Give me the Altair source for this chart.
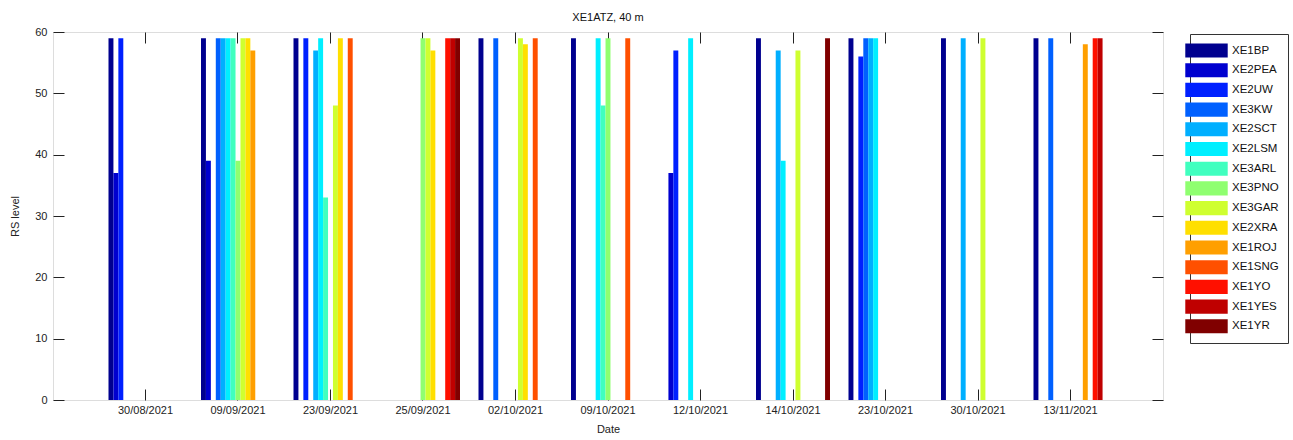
import altair as alt
import pandas as pd

stations = ["XE1BP", "XE2PEA", "XE2UW", "XE3KW", "XE2SCT", "XE2LSM", "XE3ARL", "XE3PNO",
            "XE3GAR", "XE2XRA", "XE1ROJ", "XE1SNG", "XE1YO", "XE1YES", "XE1YR"]
colors = ["#00008F", "#0000CF", "#0020FF", "#0060FF", "#00AFFF", "#00EFFF", "#40FFBF", "#8FFF70",
          "#CFFF30", "#FFDF00", "#FF9F00", "#FF5000", "#FF1000", "#BF0000", "#800000"]
dates = ["30/08/2021", "09/09/2021", "23/09/2021", "25/09/2021", "02/10/2021", "09/10/2021",
         "12/10/2021", "14/10/2021", "23/10/2021", "30/10/2021", "13/11/2021"]

# RS level per date, one value per station (same order as stations)
v_3008 = [59, 37, 59, 0, 0, 0, 0, 0, 0, 0, 0, 0, 0, 0, 0]
v_0909 = [59, 39, 0, 59, 59, 59, 59, 39, 59, 59, 57, 0, 0, 0, 0]
v_2309 = [59, 0, 59, 0, 57, 59, 33, 0, 48, 59, 0, 59, 0, 0, 0]
v_2509 = [0, 0, 0, 0, 0, 0, 0, 59, 59, 57, 0, 0, 59, 59, 59]
v_0210 = [59, 0, 0, 59, 0, 0, 0, 0, 59, 58, 0, 59, 0, 0, 0]
v_0910 = [59, 0, 0, 0, 0, 59, 48, 59, 0, 0, 0, 59, 0, 0, 0]
v_1210 = [0, 37, 57, 0, 0, 59, 0, 0, 0, 0, 0, 0, 0, 0, 0]
v_1410 = [59, 0, 0, 0, 57, 39, 0, 0, 57, 0, 0, 0, 0, 0, 59]
v_2310 = [59, 0, 56, 59, 59, 59, 0, 0, 0, 0, 0, 0, 0, 0, 0]
v_3010 = [59, 0, 0, 0, 59, 0, 0, 0, 59, 0, 0, 0, 0, 0, 0]
v_1311 = [59, 0, 0, 59, 0, 0, 0, 0, 0, 0, 58, 0, 59, 59, 0]
values = [v_3008, v_0909, v_2309, v_2509, v_0210, v_0910, v_1210, v_1410, v_2310, v_3010, v_1311]

rows = []
for d, vals in zip(dates, values):
    for s, v in zip(stations, vals):
        rows.append({"Date": d, "Station": s, "RS": v})
df = pd.DataFrame(rows)

FONT = "Liberation Sans"
xscale = alt.Scale(domain=dates, paddingInner=0.2, paddingOuter=0.6)
yscale = alt.Scale(domain=[0, 60], nice=False, zero=True)
offscale = alt.Scale(domain=stations, paddingInner=0, paddingOuter=0)
ticks_y = [0, 10, 20, 30, 40, 50, 60]

base = alt.Chart(df)

bars = base.mark_bar(strokeWidth=0).encode(
    x=alt.X("Date:N", scale=xscale, sort=None,
            axis=alt.Axis(orient="bottom", title="Date", labelAngle=0, domain=False,
                          tickSize=11, offset=-11, labelPadding=4, titlePadding=8,
                          tickColor="#222222", labelColor="#222222", titleColor="#222222",
                          labelFontSize=11, titleFontSize=11, titleFontWeight="normal",
                          labelFont=FONT, titleFont=FONT)),
    xOffset=alt.XOffset("Station:N", scale=offscale, sort=None),
    y=alt.Y("RS:Q", scale=yscale,
            axis=alt.Axis(orient="left", title="RS level", values=ticks_y, domain=False, grid=False,
                          tickSize=11, offset=-11, labelPadding=6, titlePadding=14,
                          tickColor="#222222", labelColor="#222222", titleColor="#222222",
                          labelFontSize=11, titleFontSize=11, titleFontWeight="normal",
                          labelFont=FONT, titleFont=FONT)),
    color=alt.Color("Station:N", scale=alt.Scale(domain=stations, range=colors), sort=None,
                    legend=alt.Legend(title=None, orient="none", legendX=1137, legendY=2,
                                      symbolType="M-3,-1L3,-1L3,1L-3,1Z",
                                      symbolSize=200, symbolStrokeWidth=0, symbolOpacity=1,
                                      labelFontSize=11.5, labelFont=FONT, labelColor="#111111",
                                      labelOffset=18, rowPadding=4.7, padding=9,
                                      strokeColor="#333333", fillColor="white")),
)

frame_ticks = base.mark_bar(opacity=0).encode(
    x=alt.X("Date:N", scale=xscale, sort=None,
            axis=alt.Axis(orient="top", title=None, labels=False, domain=False,
                          tickSize=11, offset=-11, tickColor="#222222")),
    xOffset=alt.XOffset("Station:N", scale=offscale, sort=None),
    y=alt.Y("RS:Q", scale=yscale,
            axis=alt.Axis(orient="right", title=None, labels=False, values=ticks_y, domain=False,
                          grid=False, tickSize=11, offset=-11, tickColor="#222222")),
)

chart = alt.layer(bars, frame_ticks).resolve_axis(
    x="independent", y="independent"
).properties(
    width=1110, height=368,
    title=alt.TitleParams("XE1ATZ, 40 m", fontSize=11, fontWeight="normal", font=FONT,
                          color="#111111", offset=3, anchor="middle"),
    autosize=alt.AutoSizeParams(type="none"),
    padding={"left": 53, "top": 32, "right": 130, "bottom": 40},
).configure_view(
    stroke="#333333", strokeWidth=1
).configure(background="white")

chart.save("out.html", embed_options={"renderer": "svg", "actions": False})
